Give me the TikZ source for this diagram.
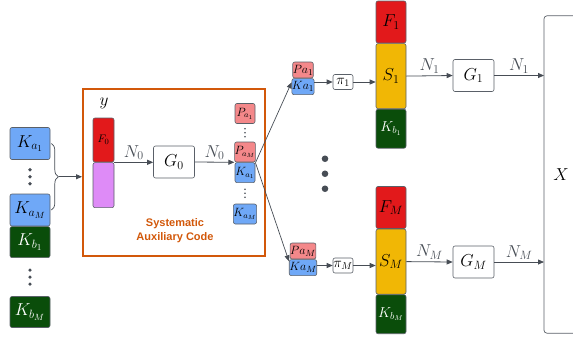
\documentclass[tikz,border=0pt]{standalone}
\usepackage{fontspec}
\usepackage{tikz}
\usetikzlibrary{arrows.meta,positioning,calc,decorations.pathreplacing}
\newfontfamily\labelsans{Liberation Sans}
\definecolor{keyblue}{HTML}{6FA8F7}
\definecolor{keygreen}{HTML}{0A4D0A}
\definecolor{frozred}{HTML}{E2191B}
\definecolor{parpink}{HTML}{F4888A}
\definecolor{auxpurple}{HTML}{DE8BF7}
\definecolor{sysyellow}{HTML}{F1B705}
\definecolor{sacorange}{HTML}{D2580A}
\definecolor{edgegray}{HTML}{474D55}
\definecolor{boxgray}{HTML}{5A6068}

\begin{document}
\begin{tikzpicture}[x=1pt,y=-1pt,
  blk/.style={draw=boxgray,rounded corners=2pt,line width=0.6pt,inner sep=0pt},
  kablk/.style={blk,fill=keyblue,minimum width=40pt,minimum height=32pt,font=\fontsize{18}{21}\selectfont},
  kbblk/.style={blk,fill=keygreen,text=white,minimum width=40pt,minimum height=31pt,font=\fontsize{18}{21}\selectfont},
  psmall/.style={blk,fill=parpink,minimum width=20pt,minimum height=20pt,font=\fontsize{12}{14}\selectfont},
  ksmall/.style={blk,fill=keyblue,minimum width=20pt,minimum height=20pt,font=\fontsize{12}{14}\selectfont},
  ppair/.style={blk,fill=parpink,minimum width=20pt,minimum height=16pt,font=\fontsize{12.5}{14}\selectfont},
  kpair/.style={blk,fill=keyblue,minimum width=20pt,minimum height=16pt,font=\fontsize{12.5}{14}\selectfont},
  fblk/.style={blk,fill=frozred,minimum width=30pt,minimum height=42pt,font=\fontsize{18}{21}\selectfont},
  sblk/.style={blk,fill=sysyellow,minimum width=30pt,minimum height=65pt,font=\fontsize{18}{21}\selectfont},
  kblk/.style={blk,fill=keygreen,text=white,minimum width=30pt,minimum height=39pt,font=\fontsize{14}{16}\selectfont},
  gblk/.style={blk,fill=white,minimum width=41pt,minimum height=32pt,font=\fontsize{18}{21}\selectfont},
  piblk/.style={blk,fill=white,minimum width=20pt,minimum height=15pt,font=\fontsize{14}{16}\selectfont},
  arr/.style={-{Triangle[length=6pt,width=5pt]},line width=0.8pt,color=edgegray},
  lbl/.style={above,inner sep=2pt,font=\fontsize{18}{21}\selectfont},
]
  \useasboundingbox (0,0) rectangle (573,341);

  % keys on the left
  \node[kablk] (ka1) at (30,143.5) {$K_{a_1}$};
  \node[kablk] (kam) at (30,210) {$K_{a_M}$};
  \node[kbblk,below=0pt of kam] (kb1) {$K_{b_1}$};
  \node[kbblk] (kbm) at (30,312) {$K_{b_M}$};
  \foreach \d in {-7,0,7} {
    \fill[edgegray] ($(ka1.south)!0.5!(kam.north)+(0,\d)$) circle (1.8);
    \fill[edgegray] ($(kb1.south)!0.5!(kbm.north)+(0,\d)$) circle (1.8);
  }
  \draw[decorate,decoration={brace,amplitude=7pt},edgegray,line width=0.7pt]
    ([xshift=1pt]ka1.east) -- ([xshift=1pt]kam.east);
  \coordinate (btip) at ($(ka1.east)!0.5!(kam.east)+(9,0)$);

  % systematic auxiliary code
  \node[draw=sacorange,line width=2pt,minimum width=182pt,minimum height=167pt,inner sep=0pt] (sac) at (174,172.5) {};
  \draw[arr] (btip) -- (btip -| sac.west);
  \node[font=\fontsize{17}{20}\selectfont] (ylbl) at (104,103) {$y$};
  \node[blk,fill=frozred,minimum width=21pt,minimum height=44pt,font=\fontsize{11}{13}\selectfont] (f0) at (103.5,140) {$F_0$};
  \node[blk,fill=auxpurple,minimum width=21pt,minimum height=45pt,below=0pt of f0] (aux) {};
  \node[gblk] (g0) at (174,162) {$G_0$};
  \draw[arr] (f0.south east) -- node[lbl] {$N_0$} (f0.south east -| g0.west);
  \node[psmall] (pa1) at (245,113.5) {$P_{a_1}$};
  \node[psmall] (pam) at (245,152) {$P_{a_M}$};
  \node[ksmall,below=0pt of pam] (ka1s) {$K_{a_1}$};
  \node[ksmall] (kams) at (245,214) {$K_{a_M}$};
  \foreach \d in {-4,0,4} {
    \fill[edgegray] ($(pa1.south)!0.5!(pam.north)+(0,\d)$) circle (0.9);
    \fill[edgegray] ($(ka1s.south)!0.5!(kams.north)+(0,\d)$) circle (0.9);
  }
  \draw[arr] (g0.east) -- node[lbl] {$N_0$} (pam.south west);
  \node[font=\labelsans\bfseries\fontsize{11}{14}\selectfont,text=sacorange,align=center] (sactxt) at (175,231) {Systematic\\Auxiliary Code};

  % pairs and permutations
  \node[ppair] (pa1r) at (303,70) {$Pa_1$};
  \node[kpair,below=0pt of pa1r] (ka1r) {$Ka_1$};
  \node[ppair] (pamr) at (303,251) {$Pa_M$};
  \node[kpair,below=0pt of pamr] (kamr) {$Ka_M$};
  \draw[arr,line width=0.7pt] (pam.south east) -- ($(ka1r.north west)+(0,4)$);
  \draw[arr,line width=0.7pt] (ka1s.north east) -- ($(kamr.north west)+(0,2)$);
  \node[piblk] (pi1) at (343,82) {$\pi_1$};
  \node[piblk] (pim) at (343,265.5) {$\pi_M$};
  \draw[arr] (pi1 -| ka1r.east) -- (pi1.west);
  \draw[arr] (pim -| kamr.east) -- (pim.west);
  \foreach \d in {-15,0,15}
    \fill[edgegray] ($(pi1)!0.5!(pim)+(-18,\d)$) circle (3.3);

  % codewords
  \node[fblk] (f1) at (391,22) {$F_1$};
  \node[sblk,below=0pt of f1] (s1) {$S_1$};
  \node[kblk,below=0pt of s1] (kb1r) {$K_{b_1}$};
  \node[fblk] (fm) at (391,207.5) {$F_M$};
  \node[sblk,below=0pt of fm] (sm) {$S_M$};
  \node[kblk,below=0pt of sm] (kbmr) {$K_{b_M}$};
  \draw[arr] (pi1.east) -- (pi1.east -| s1.west);
  \draw[arr] (pim.east) -- (pim.east -| sm.west);

  % channels
  \node[minimum width=29pt,minimum height=317pt,inner sep=0pt,anchor=west] (xbox) at (544,174.5) {};
  \draw[boxgray,line width=0.7pt,rounded corners=3pt] (xbox.north east) -- (xbox.north west) -- (xbox.south west) -- (xbox.south east);
  \node[font=\fontsize{18}{21}\selectfont] (xlbl) at (561,175) {$X$};
  \node[gblk] (g1) at (473.5,75.5) {$G_1$};
  \node[gblk] (gm) at (473.5,262) {$G_M$};
  \draw[arr] (s1.east) -- node[lbl] {$N_1$} (g1.west);
  \draw[arr] (g1.east) -- node[lbl] {$N_1$} (g1.east -| xbox.west);
  \draw[arr] (sm.east) -- node[lbl] {$N_M$} (gm.west);
  \draw[arr] (gm.east) -- node[lbl] {$N_M$} (gm.east -| xbox.west);
\end{tikzpicture}
\end{document}
